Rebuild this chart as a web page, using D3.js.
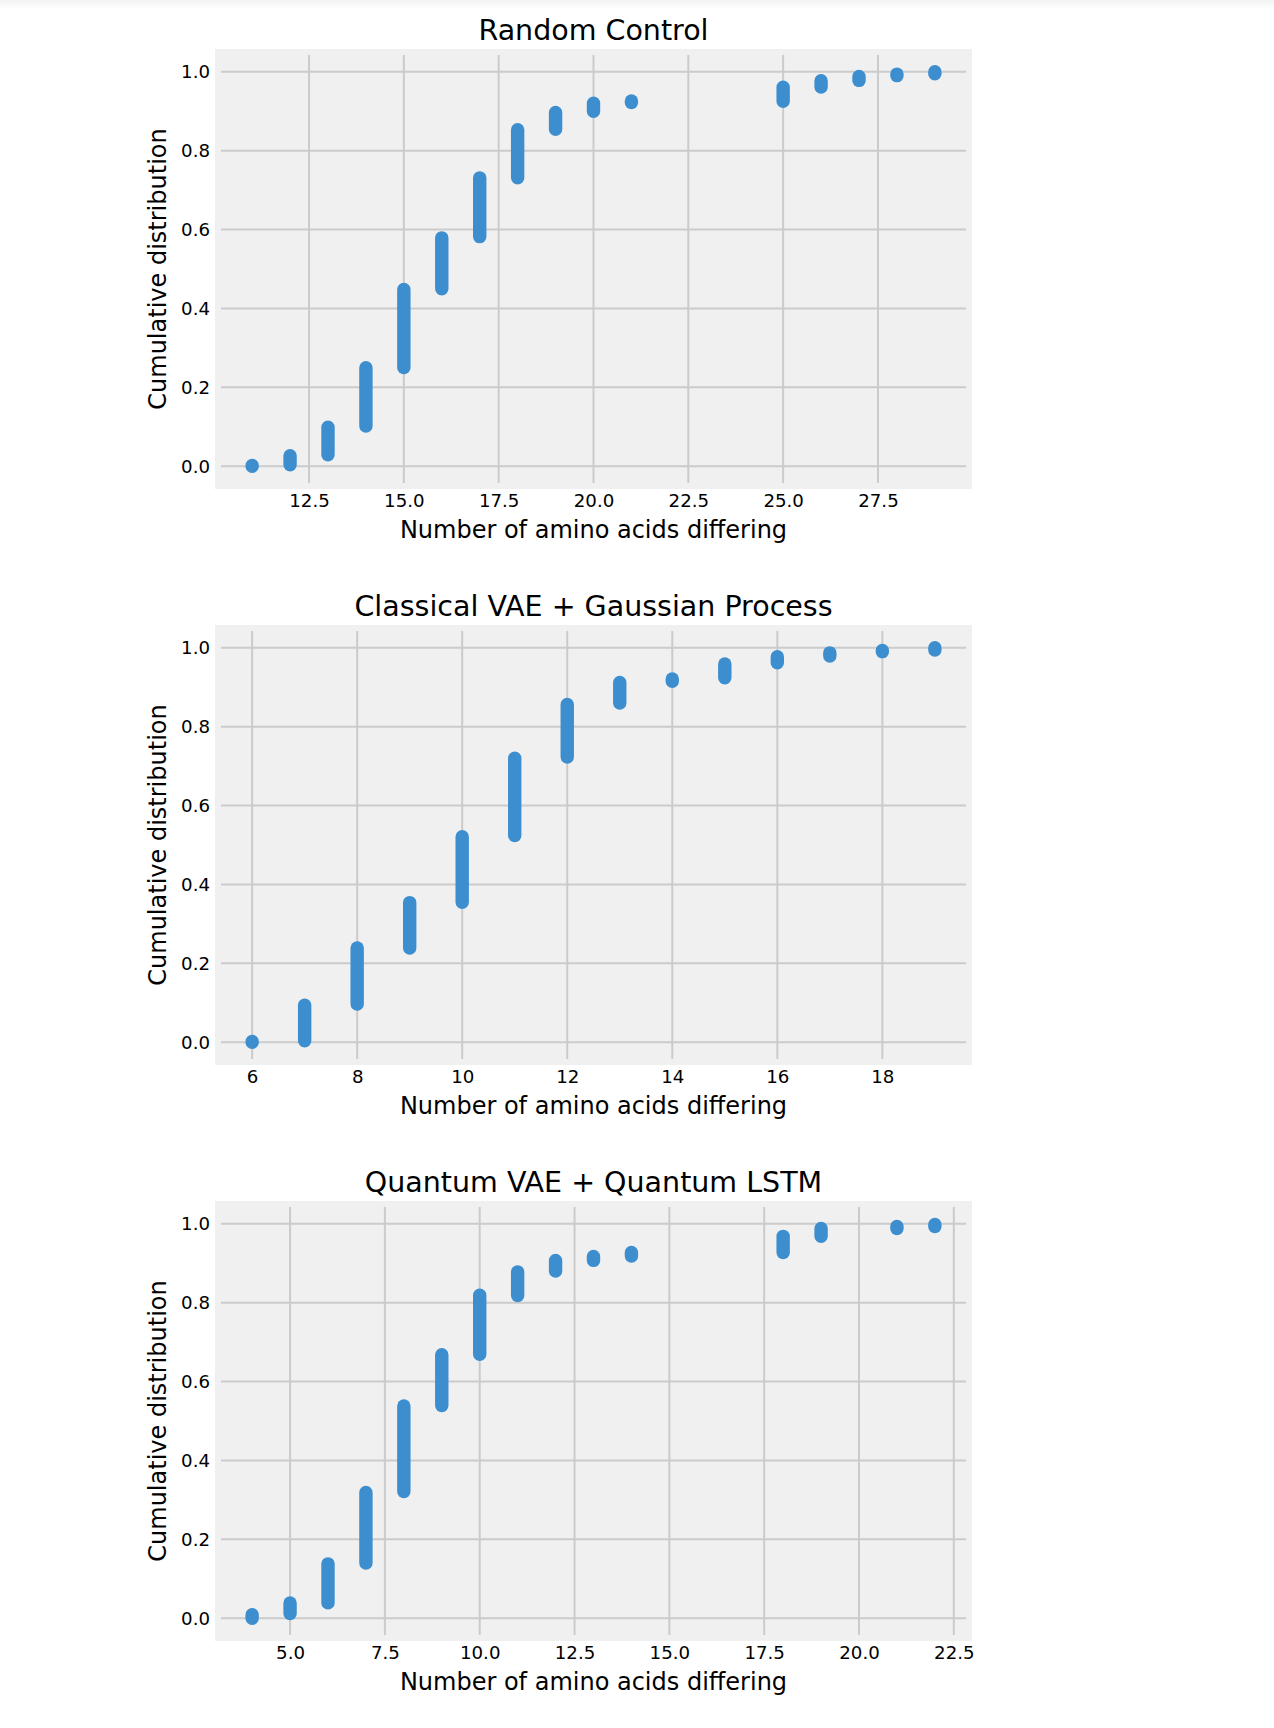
<!DOCTYPE html>
<html lang="en">
<head>
    <meta charset="UTF-8">
    <title>Cumulative distribution of amino acid differences</title>
    <style>
        body { margin: 0; background: #fff; }
        text { font-family: "DejaVu Sans", sans-serif; fill: #000; }
    </style>
</head>
<body>
<script src="https://cdn.jsdelivr.net/npm/d3@7/dist/d3.min.js"></script>
<script>
    // each x value has a vertical run of ECDF points, kept as low/high ends
    var randomX  = [11, 12, 13, 14, 15, 16, 17, 18, 19, 20, 21, 25, 26, 27, 28, 29];
    var randomLo = [0.000, 0.004, 0.029, 0.102, 0.250, 0.450, 0.582, 0.731, 0.854, 0.900, 0.922, 0.925, 0.961, 0.978, 0.990, 0.995];
    var randomHi = [0.002, 0.027, 0.099, 0.250, 0.448, 0.579, 0.731, 0.853, 0.897, 0.920, 0.926, 0.961, 0.977, 0.988, 0.994, 1.000];

    var classicalX  = [6, 7, 8, 9, 10, 11, 12, 13, 14, 15, 16, 17, 18, 19];
    var classicalLo = [0.000, 0.004, 0.097, 0.239, 0.355, 0.524, 0.723, 0.860, 0.915, 0.924, 0.962, 0.979, 0.990, 0.994];
    var classicalHi = [0.002, 0.094, 0.239, 0.354, 0.521, 0.720, 0.856, 0.912, 0.921, 0.959, 0.977, 0.987, 0.993, 1.000];

    var quantumX  = [4, 5, 6, 7, 8, 9, 10, 11, 12, 13, 14, 18, 19, 21, 22];
    var quantumLo = [0.000, 0.012, 0.039, 0.140, 0.321, 0.539, 0.669, 0.818, 0.880, 0.907, 0.918, 0.927, 0.968, 0.988, 0.993];
    var quantumHi = [0.009, 0.039, 0.138, 0.319, 0.538, 0.668, 0.819, 0.878, 0.907, 0.917, 0.927, 0.968, 0.988, 0.993, 0.998];

    var randomTicks    = [12.5, 15, 17.5, 20, 22.5, 25, 27.5];
    var classicalTicks = [6, 8, 10, 12, 14, 16, 18];
    var quantumTicks   = [5, 7.5, 10, 12.5, 15, 17.5, 20, 22.5];
    var yTicks = [0, 0.2, 0.4, 0.6, 0.8, 1.0];

    var titles = ['Random Control', 'Classical VAE + Gaussian Process', 'Quantum VAE + Quantum LSTM'];
    var xLabel = 'Number of amino acids differing';
    var yLabel = 'Cumulative distribution';

    var panels = [
        {title: titles[0], xs: randomX, lo: randomLo, hi: randomHi, ticks: randomTicks, fmt: '.1f'},
        {title: titles[1], xs: classicalX, lo: classicalLo, hi: classicalHi, ticks: classicalTicks, fmt: 'd'},
        {title: titles[2], xs: quantumX, lo: quantumLo, hi: quantumHi, ticks: quantumTicks, fmt: '.1f'}
    ];

    var width = 1274,
        height = 1728,
        left = 218,
        plotW = 751,
        plotH = 434,
        tops = [52, 628, 1204],
        r = 6.7,
        bg = '#f0f0f0',
        blue = '#3d8ecf';

    var svg = d3.select('body').append('svg')
                .attr('width', width)
                .attr('height', height);

    // faint grey strip along the top edge of the screenshot
    var grad = svg.append('defs').append('linearGradient')
                  .attr('id', 'topfade')
                  .attr('x1', 0).attr('y1', 0).attr('x2', 0).attr('y2', 1);
    grad.append('stop').attr('offset', 0).attr('stop-color', '#f3f3f3');
    grad.append('stop').attr('offset', 1).attr('stop-color', '#ffffff');
    svg.append('rect')
       .attr('width', width)
       .attr('height', 9)
       .attr('fill', 'url(#topfade)');

    // matplotlib style autoscale: 5% margin on each side of the data range
    function padded(min, max) {
        var m = (max - min) * 0.05;
        return [min - m, max + m];
    }

    function renderPanel(p, i) {
        var top = tops[i];
        var g = svg.append('g')
                   .attr('transform', 'translate(' + left + ',' + top + ')');

        var x = d3.scaleLinear().domain(padded(d3.min(p.xs), d3.max(p.xs))).range([0, plotW]);
        var y = d3.scaleLinear().domain(padded(0, 1)).range([plotH, 0]);

        g.append('rect')
         .attr('width', plotW)
         .attr('height', plotH)
         .attr('fill', bg);

        g.selectAll('line.vgrid')
         .data(p.ticks)
         .enter().append('line')
         .attr('class', 'vgrid')
         .attr('x1', function(d) { return x(d); })
         .attr('x2', function(d) { return x(d); })
         .attr('y1', 0)
         .attr('y2', plotH)
         .attr('stroke', '#cbcbcb')
         .attr('stroke-width', 2);

        g.selectAll('line.hgrid')
         .data(yTicks)
         .enter().append('line')
         .attr('class', 'hgrid')
         .attr('x1', 0)
         .attr('x2', plotW)
         .attr('y1', function(d) { return y(d); })
         .attr('y2', function(d) { return y(d); })
         .attr('stroke', '#cbcbcb')
         .attr('stroke-width', 2);

        // points stacked at one x merge into a rounded bar
        g.selectAll('rect.run')
         .data(p.xs)
         .enter().append('rect')
         .attr('class', 'run')
         .attr('x', function(d) { return x(d) - r; })
         .attr('y', function(d, j) { return y(p.hi[j]) - r; })
         .attr('width', 2 * r)
         .attr('height', function(d, j) { return y(p.lo[j]) - y(p.hi[j]) + 2 * r; })
         .attr('rx', r)
         .attr('ry', r)
         .attr('fill', blue);

        // thick spine in the background colour, like the fivethirtyeight style
        g.append('rect')
         .attr('width', plotW)
         .attr('height', plotH)
         .attr('fill', 'none')
         .attr('stroke', bg)
         .attr('stroke-width', 6);

        var xAxis = d3.axisBottom(x).tickValues(p.ticks).tickSize(0).tickPadding(8)
                      .tickFormat(d3.format(p.fmt));
        var yAxis = d3.axisLeft(y).tickValues(yTicks).tickSize(0).tickPadding(8)
                      .tickFormat(d3.format('.1f'));

        var gx = g.append('g')
                  .attr('transform', 'translate(0,' + plotH + ')')
                  .call(xAxis);
        var gy = g.append('g').call(yAxis);

        [gx, gy].forEach(function(a) {
            a.select('.domain').remove();
            a.selectAll('text')
             .attr('font-size', 18.2)
             .attr('font-family', 'DejaVu Sans')
             .attr('fill', '#000');
        });

        g.append('text')
         .attr('x', plotW / 2)
         .attr('y', -12)
         .attr('text-anchor', 'middle')
         .attr('font-size', 28.5)
         .text(p.title);

        g.append('text')
         .attr('x', plotW / 2)
         .attr('y', plotH + 52)
         .attr('text-anchor', 'middle')
         .attr('font-size', 24)
         .text(xLabel);

        g.append('text')
         .attr('transform', 'translate(' + (157.6 - left) + ',' + (plotH / 2) + ') rotate(-90)')
         .attr('dy', '0.35em')
         .attr('text-anchor', 'middle')
         .attr('font-size', 24)
         .text(yLabel);
    }

    panels.forEach(renderPanel);
</script>
</body>
</html>
